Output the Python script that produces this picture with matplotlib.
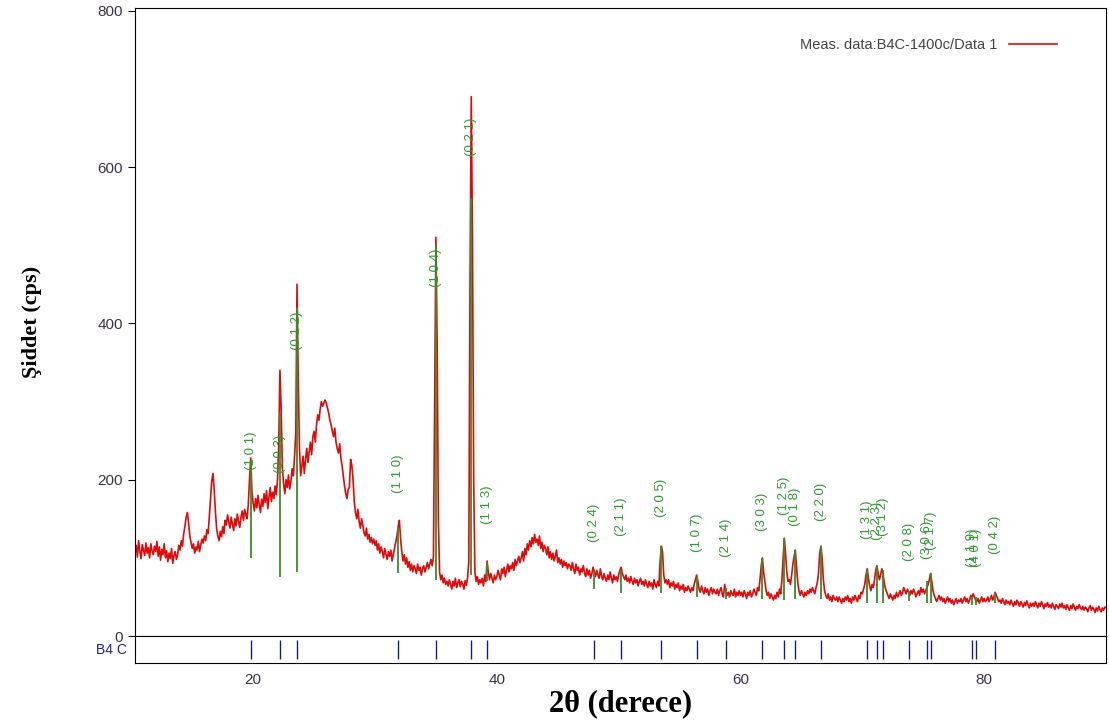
import numpy as np
import matplotlib
matplotlib.use("Agg")
from matplotlib import pyplot as plt

# measured pattern, 2theta from 10 to 90 deg in 0.1 deg steps (one row = 2 deg)
two_theta = np.linspace(10, 90, 801)
intensity = [
    112, 98, 120, 105, 116, 101, 122, 108, 99, 117, 110, 103, 119, 106, 113, 100, 118, 109, 104, 115,   # 10
    108, 121, 102, 114, 97, 111, 104, 118, 100, 109, 95, 106, 99, 112, 93, 103, 108, 98, 104, 116,      # 12
    110, 122, 115, 131, 140, 152, 158, 145, 128, 120, 112, 118, 106, 114, 110, 121, 108, 117, 124, 119, # 14
    128, 122, 136, 131, 152, 175, 198, 208, 188, 160, 138, 128, 122, 134, 127, 140, 131, 148, 142, 155, # 16
    146, 138, 152, 143, 135, 150, 141, 156, 147, 139, 152, 160, 148, 162, 155, 150, 168, 200, 228, 185, # 18
    170, 160, 176, 164, 180, 168, 158, 175, 166, 182, 171, 186, 163, 178, 190, 172, 184, 176, 192, 181, # 20
    200, 245, 340, 290, 215, 195, 182, 200, 190, 206, 188, 198, 214, 205, 230, 260, 450, 330, 240, 205, # 22
    218, 230, 208, 226, 240, 222, 236, 248, 232, 255, 262, 248, 270, 283, 276, 290, 300, 294, 298, 302, # 24
    298, 292, 285, 276, 270, 262, 255, 266, 248, 240, 234, 246, 228, 218, 205, 192, 182, 176, 188, 190, # 26
    226, 218, 200, 172, 158, 150, 162, 146, 138, 150, 142, 132, 128, 138, 124, 130, 120, 126, 118, 124, # 28
    116, 122, 110, 118, 106, 114, 108, 100, 112, 104, 98, 108, 102, 110, 96, 104, 112, 120, 128, 140,   # 30
    148, 125, 108, 96, 104, 92, 100, 88, 95, 84, 92, 82, 90, 86, 80, 92, 84, 88, 78, 86,                # 32
    90, 82, 88, 94, 86, 92, 98, 90, 102, 300, 510, 380, 150, 82, 72, 78, 68, 74, 66, 70,                # 34
    64, 72, 66, 60, 70, 64, 74, 62, 68, 72, 63, 70, 66, 60, 71, 65, 75, 95, 450, 690,                   # 36
    510, 200, 82, 70, 76, 66, 72, 68, 74, 64, 78, 70, 96, 82, 72, 80, 74, 68, 78, 72,                   # 38
    76, 84, 78, 72, 86, 80, 88, 76, 84, 92, 82, 90, 86, 94, 84, 98, 90, 96, 102, 94,                    # 40
    100, 108, 96, 112, 104, 118, 110, 122, 114, 126, 118, 130, 120, 124, 116, 128, 112, 120, 108, 116,  # 42
    112, 104, 114, 100, 108, 98, 106, 96, 102, 110, 94, 100, 92, 98, 88, 96, 90, 94, 86, 92,            # 44
    90, 84, 94, 86, 80, 92, 84, 88, 78, 86, 82, 90, 80, 76, 86, 78, 84, 74, 80, 88,                     # 46
    82, 76, 84, 78, 74, 86, 76, 72, 80, 74, 70, 78, 72, 82, 74, 68, 78, 72, 76, 70,                     # 48
    78, 84, 88, 80, 76, 72, 78, 70, 74, 68, 76, 70, 66, 74, 68, 72, 64, 70, 74, 66,                     # 50
    70, 64, 72, 66, 62, 70, 64, 68, 60, 72, 66, 62, 70, 64, 95, 115, 108, 78, 68, 72,                   # 52
    66, 72, 62, 68, 64, 70, 60, 66, 62, 68, 58, 64, 60, 66, 56, 62, 58, 64, 60, 56,                     # 54
    62, 58, 66, 72, 78, 70, 60, 56, 64, 58, 54, 62, 56, 60, 52, 58, 62, 54, 60, 56,                     # 56
    54, 60, 52, 58, 62, 54, 50, 66, 58, 52, 56, 50, 58, 54, 52, 60, 50, 56, 52, 58,                     # 58
    52, 56, 50, 58, 54, 48, 56, 52, 58, 50, 54, 60, 56, 52, 62, 58, 72, 90, 100, 82,                    # 60
    70, 58, 52, 56, 48, 54, 50, 46, 52, 48, 56, 50, 60, 54, 72, 100, 125, 105, 82, 70,                  # 62
    72, 66, 78, 92, 102, 110, 88, 68, 58, 52, 58, 54, 50, 56, 52, 58, 54, 60, 56, 62,                   # 64
    58, 54, 62, 68, 80, 105, 115, 100, 72, 58, 52, 48, 54, 46, 50, 44, 52, 48, 46, 50,                  # 66
    44, 50, 46, 42, 48, 44, 50, 46, 52, 44, 48, 42, 50, 46, 52, 48, 44, 52, 48, 56,                     # 68
    54, 60, 66, 78, 86, 74, 64, 58, 66, 62, 72, 84, 90, 80, 72, 78, 86, 80, 68, 60,                     # 70
    56, 52, 48, 54, 50, 46, 52, 48, 56, 50, 54, 58, 52, 56, 62, 58, 54, 60, 56, 52,                     # 72
    58, 54, 60, 56, 50, 54, 58, 52, 62, 56, 60, 54, 58, 62, 66, 72, 80, 70, 58, 52,                     # 74
    48, 44, 48, 52, 46, 50, 44, 48, 42, 46, 50, 44, 48, 42, 46, 40, 44, 48, 42, 46,                     # 76
    44, 48, 42, 46, 50, 44, 48, 42, 46, 52, 48, 54, 50, 46, 44, 48, 42, 46, 50, 44,                     # 78
    48, 44, 46, 50, 44, 48, 52, 46, 50, 56, 52, 48, 44, 46, 42, 48, 44, 40, 46, 42,                     # 80
    44, 40, 46, 42, 38, 44, 40, 46, 42, 38, 44, 41, 37, 43, 39, 45, 40, 36, 42, 38,                     # 82
    42, 38, 44, 40, 36, 42, 38, 44, 40, 35, 41, 38, 43, 37, 40, 36, 42, 38, 34, 40,                     # 84
    38, 35, 41, 37, 42, 36, 39, 34, 40, 36, 33, 39, 35, 41, 37, 33, 38, 35, 40, 36,                     # 86
    34, 38, 33, 37, 35, 31, 36, 39, 33, 37, 34, 30, 36, 32, 38, 34, 31, 36, 33, 37,                     # 88
    36,                                                                                                  # 90
]

# B4C reference peaks
hkl = ["(1 0 1)", "(0 0 3)", "(0 1 2)", "(1 1 0)", "(1 0 4)", "(0 2 1)", "(1 1 3)",
       "(0 2 4)", "(2 1 1)", "(2 0 5)", "(1 0 7)", "(2 1 4)", "(3 0 3)", "(1 2 5)",
       "(0 1 8)", "(2 2 0)", "(1 3 1)", "(2 2 3)", "(3 1 2)", "(2 0 8)", "(3 0 6)",
       "(2 1 7)", "(1 1 9)", "(4 0 1)", "(0 4 2)"]
peak_pos = [19.8, 22.2, 23.6, 31.9, 35.0, 37.9, 39.2, 48.0, 50.2, 53.5, 56.4, 58.8,
            61.8, 63.6, 64.5, 66.6, 70.4, 71.2, 71.7, 73.8, 75.3, 75.6, 79.0, 79.3, 80.9]
stick_low = [100, 75, 82, 80, 72, 78, 70, 60, 55, 55, 50, 48, 48, 46, 48, 48,
             42, 42, 42, 45, 42, 42, 40, 40, 42]
stick_high = [225, 285, 420, 140, 500, 560, 95, 82, 85, 115, 75, 62, 100, 125, 110, 115,
              85, 90, 85, 58, 70, 80, 50, 50, 55]
label_y = [237, 233, 391, 207, 471, 638, 168, 145, 152, 177, 132, 126, 159, 179,
           165, 171, 149, 147, 152, 121, 123, 134, 113, 113, 130]

fig = plt.figure(figsize=(11.09, 7.24), dpi=100)
ax = fig.add_axes([0.1217, 0.1215, 0.8756, 0.867])
strip = fig.add_axes([0.1217, 0.0843, 0.8756, 0.0372], sharex=ax)

ax.plot(two_theta, intensity, color="#e00a0a", lw=1.2, zorder=2,
        label="Meas. data:B4C-1400c/Data 1")
ax.vlines(peak_pos, stick_low, stick_high, color="#3a8a2a", lw=1.3, zorder=3)
for lab, x, y in zip(hkl, peak_pos, label_y):
    ax.text(x, y, lab, rotation=90, ha="center", va="center", fontsize=9.5,
            color="#2e9a2e", family="Liberation Sans", zorder=4)

ax.set_xlim(10.3, 90)
ax.set_ylim(0, 803)
ax.set_yticks([0, 200, 400, 600, 800])
ax.tick_params(axis="y", direction="out", length=5, labelsize=11, labelcolor="#3c3446")
ax.tick_params(axis="x", bottom=False, labelbottom=False)
for lbl in ax.get_yticklabels():
    lbl.set_family("Liberation Sans")
ax.set_ylabel("Şiddet (cps)", family="Liberation Serif", fontweight="bold",
              fontsize=16, labelpad=40)

leg = ax.legend(loc="upper right", bbox_to_anchor=(0.963, 0.973), frameon=False,
                markerfirst=False, handlelength=3.3,
                prop={"family": "Liberation Sans", "size": 10.5})
for t in leg.get_texts():
    t.set_color("#444444")

strip.vlines(peak_pos, 0.15, 0.85, color="#1c1c80", lw=1.0)
strip.set_ylim(0, 1)
strip.set_yticks([])
strip.text(-0.008, 0.5, "B4 C", transform=strip.transAxes, ha="right", va="center",
           color="#2020a0", fontsize=10, family="Liberation Sans")
strip.set_xticks([20, 40, 60, 80])
strip.tick_params(axis="x", length=0, labelsize=11, labelcolor="#3c3446", pad=7)
for lbl in strip.get_xticklabels():
    lbl.set_family("Liberation Sans")
strip.set_xlabel("2θ (derece)", family="Liberation Serif", fontweight="bold",
                 fontsize=22, labelpad=2)

plt.savefig("out.png", dpi=100)
